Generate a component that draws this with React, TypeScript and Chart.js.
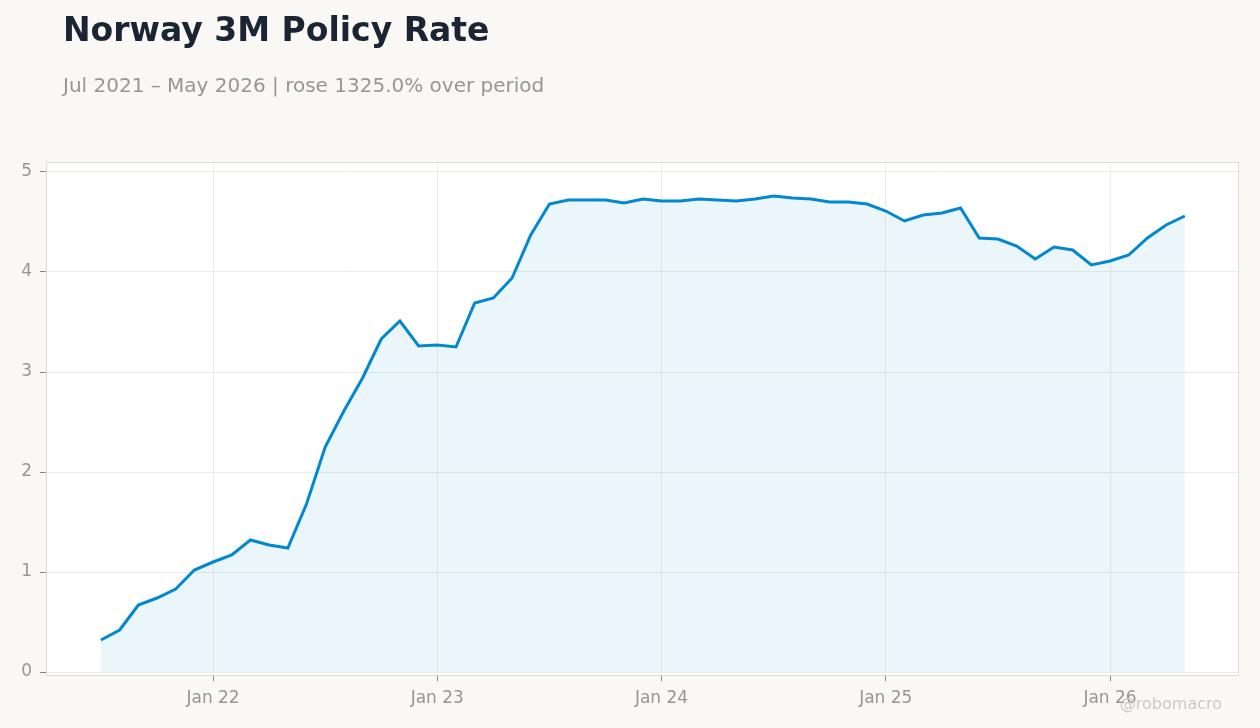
import { useEffect, useRef } from "react";
import { Chart, registerables } from "chart.js";

Chart.register(...registerables);

// Monthly, Jul 2021 – May 2026
const months = [
  "Jul 21", "Aug 21", "Sep 21", "Oct 21", "Nov 21", "Dec 21",
  "Jan 22", "Feb 22", "Mar 22", "Apr 22", "May 22", "Jun 22", "Jul 22", "Aug 22", "Sep 22", "Oct 22", "Nov 22", "Dec 22",
  "Jan 23", "Feb 23", "Mar 23", "Apr 23", "May 23", "Jun 23", "Jul 23", "Aug 23", "Sep 23", "Oct 23", "Nov 23", "Dec 23",
  "Jan 24", "Feb 24", "Mar 24", "Apr 24", "May 24", "Jun 24", "Jul 24", "Aug 24", "Sep 24", "Oct 24", "Nov 24", "Dec 24",
  "Jan 25", "Feb 25", "Mar 25", "Apr 25", "May 25", "Jun 25", "Jul 25", "Aug 25", "Sep 25", "Oct 25", "Nov 25", "Dec 25",
  "Jan 26", "Feb 26", "Mar 26", "Apr 26", "May 26",
];

const rates = [
  0.32, 0.42, 0.67, 0.74, 0.83, 1.02,
  1.1, 1.17, 1.32, 1.27, 1.24, 1.68, 2.25, 2.61, 2.94, 3.33, 3.51, 3.26,
  3.27, 3.25, 3.69, 3.74, 3.94, 4.37, 4.68, 4.72, 4.72, 4.72, 4.69, 4.73,
  4.71, 4.71, 4.73, 4.72, 4.71, 4.73, 4.76, 4.74, 4.73, 4.7, 4.7, 4.68,
  4.61, 4.51, 4.57, 4.59, 4.64, 4.34, 4.33, 4.26, 4.13, 4.25, 4.22, 4.07,
  4.11, 4.17, 4.34, 4.47, 4.56,
];

const xTickLabels = ["Jan 22", "Jan 23", "Jan 24", "Jan 25", "Jan 26"];
const yTickValues = [0, 1, 2, 3, 4, 5];

const FONT = "'DejaVu Sans', sans-serif";

const frame = {
  id: "frame",
  beforeDraw(chart: Chart) {
    const { ctx, chartArea: a } = chart;
    ctx.save();
    ctx.fillStyle = "#ffffff";
    ctx.fillRect(a.left, a.top, a.right - a.left, a.bottom - a.top);
    ctx.restore();
  },
  afterDraw(chart: Chart) {
    const { ctx, chartArea: a } = chart;
    ctx.save();
    ctx.strokeStyle = "#e0dcd5";
    ctx.lineWidth = 1;
    ctx.strokeRect(a.left + 0.5, a.top + 0.5, a.right - a.left - 1, a.bottom - a.top - 1);
    ctx.restore();
  },
};

const App = () => {
  const chartRef = useRef<HTMLCanvasElement>(null);
  const chartInstance = useRef<Chart | null>(null);

  useEffect(() => {
    if (!chartRef.current) return;
    if (chartInstance.current) chartInstance.current.destroy();
    const ctx = chartRef.current.getContext("2d");
    if (!ctx) return;

    const janIdx = months
      .map((m, i) => (m.startsWith("Jan") ? i : -1))
      .filter((i) => i >= 0);

    chartInstance.current = new Chart(ctx, {
      type: "line",
      data: {
        datasets: [
          {
            label: "Norway 3M Policy Rate",
            data: rates.map((v, i) => ({ x: i, y: v })),
            borderColor: "#0288d1",
            borderWidth: 3,
            backgroundColor: "rgba(2,136,209,0.08)",
            fill: "origin",
            pointRadius: 0,
            tension: 0,
          },
        ],
      },
      options: {
        animation: false,
        responsive: false,
        maintainAspectRatio: false,
        layout: { padding: { top: 162, right: 21, left: 0, bottom: 0 } },
        plugins: {
          legend: { display: false },
          tooltip: { enabled: false },
        },
        scales: {
          x: {
            type: "linear",
            min: -2.94,
            max: 60.9,
            afterBuildTicks: (scale: any) => {
              scale.ticks = janIdx.map((v) => ({ value: v }));
            },
            afterFit: (scale: any) => {
              scale.height = 52;
            },
            ticks: {
              callback: (_v: any, i: number) => xTickLabels[i],
              color: "#999690",
              font: { family: FONT, size: 17 },
              padding: 7,
              maxRotation: 0,
            },
            grid: {
              color: "#eeece8",
              tickColor: "#8a8680",
              tickLength: 5,
            },
            border: { display: false },
          },
          y: {
            min: -0.04,
            max: 5.1,
            afterBuildTicks: (scale: any) => {
              scale.ticks = yTickValues.map((v) => ({ value: v }));
            },
            afterFit: (scale: any) => {
              scale.width = 46;
            },
            ticks: {
              color: "#999690",
              font: { family: FONT, size: 17 },
              padding: 8,
            },
            grid: {
              color: "#eeece8",
              tickColor: "#8a8680",
              tickLength: 6,
            },
            border: { display: false },
          },
        },
      },
      plugins: [frame],
    });

    return () => {
      if (chartInstance.current) {
        chartInstance.current.destroy();
        chartInstance.current = null;
      }
    };
  }, []);

  return (
    <div
      style={{
        position: "fixed",
        left: 0,
        top: 0,
        width: 1260,
        height: 728,
        background: "#f9f8f5",
        fontFamily: FONT,
        overflow: "hidden",
      }}
    >
      <canvas
        ref={chartRef}
        width={1260}
        height={728}
        style={{ position: "absolute", left: 0, top: 0, width: 1260, height: 728 }}
        role="img"
        aria-label="Norway 3M policy rate line chart"
      ></canvas>
      <div
        style={{
          position: "absolute",
          left: 63,
          top: 9,
          fontSize: 33,
          fontWeight: "bold",
          color: "#1b2433",
          lineHeight: "42px",
        }}
      >
        Norway 3M Policy Rate
      </div>
      <div
        style={{
          position: "absolute",
          left: 63,
          top: 73,
          fontSize: 20,
          color: "#9a9590",
          lineHeight: "24px",
        }}
      >
        Jul 2021 – May 2026 | rose 1325.0% over period
      </div>
      <div
        style={{
          position: "absolute",
          right: 38,
          top: 694,
          fontSize: 16,
          color: "#cdcac5",
          lineHeight: "20px",
        }}
      >
        @robomacro
      </div>
    </div>
  );
};

export default App;
